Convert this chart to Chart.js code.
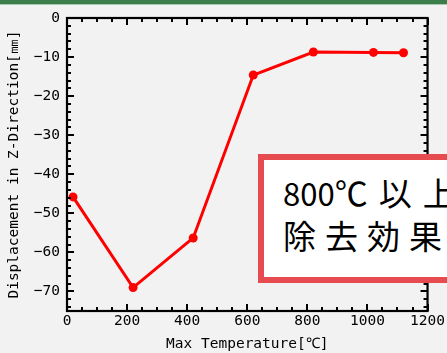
<!DOCTYPE html>
<html>
<head>
<meta charset="utf-8">
<script src="https://cdn.jsdelivr.net/npm/chart.js@4"></script>
<style>
  html, body { margin:0; padding:0; background:#f2f2f2; width:447px; height:353px; overflow:hidden; position:relative; }
  #wrap { position:absolute; left:0; top:0; width:447px; height:353px; }
  #topbar { position:absolute; left:0; top:0; width:447px; height:4px; background:#3b7d4b; border-bottom:1px solid #a9c9b0; }
  #note { position:absolute; left:258px; top:154px; width:260px; height:117px; background:#ffffff; border:6px solid #e64b50;
          font-family:"Noto Sans CJK JP", sans-serif; color:#000; white-space:nowrap; }
  .line { position:absolute; left:19px; font-size:31px; line-height:30px; }
  .w1 { letter-spacing:11px; font-size:33px; }
  .w2 { letter-spacing:9px; font-size:33px; }
</style>
</head>
<body>
<div id="wrap"><canvas id="c" width="447" height="353"></canvas></div>
<div id="topbar"></div>
<div id="note">
  <div class="line" style="top:17px;">800<span class="w1">℃以上で</span></div>
  <div class="line w2" style="top:60px;">除去効果あり</div>
</div>
<script>
const temperatures = [20, 220, 420, 620, 820, 1020, 1120];
const displacements = [-45.8, -69.0, -56.3, -14.6, -8.7, -8.8, -8.9];
const xTickValues = [0, 200, 400, 600, 800, 1000, 1200];
const yTickValues = [0, -10, -20, -30, -40, -50, -60, -70];
const xTitle = 'Max Temperature[℃]';
const yTitle = 'Displacement in Z-Direction[㎜]';

const axisFont = { family: '"DejaVu Sans Mono", monospace', size: 14.5 };

const frameTicks = {
  id: 'frameTicks',
  afterDraw(chart) {
    const ctx = chart.ctx;
    const a = chart.chartArea;
    const xs = chart.scales.x, ys = chart.scales.y;
    ctx.save();
    ctx.strokeStyle = '#000';
    ctx.lineWidth = 2;
    for (let v = xs.min; v <= xs.max + 1e-9; v += 50) {
      const px = Math.round(xs.getPixelForValue(v));
      const len = (v % 200 === 0) ? 7 : 4;
      ctx.beginPath();
      ctx.moveTo(px, a.bottom); ctx.lineTo(px, a.bottom - len);
      ctx.moveTo(px, a.top); ctx.lineTo(px, a.top + len);
      ctx.stroke();
    }
    for (let v = 0; v >= ys.min - 1e-9; v -= 2) {
      const py = Math.round(ys.getPixelForValue(v));
      const len = (v % 10 === 0) ? 7 : 4;
      ctx.beginPath();
      ctx.moveTo(a.left, py); ctx.lineTo(a.left + len, py);
      ctx.moveTo(a.right, py); ctx.lineTo(a.right - len, py);
      ctx.stroke();
    }
    ctx.lineWidth = 2.2;
    ctx.strokeRect(a.left, a.top, a.right - a.left, a.bottom - a.top);
    ctx.restore();
  }
};

new Chart(document.getElementById('c'), {
  type: 'line',
  data: {
    datasets: [{
      data: temperatures.map((t, i) => ({ x: t, y: displacements[i] })),
      borderColor: '#ff0000',
      backgroundColor: '#ff0000',
      borderWidth: 3,
      pointRadius: 4.5,
      pointBackgroundColor: '#ff0000',
      pointBorderWidth: 0,
      tension: 0
    }]
  },
  options: {
    responsive: false,
    animation: false,
    events: [],
    layout: { padding: { top: 18, right: 17.5, left: 0, bottom: 0 } },
    plugins: { legend: { display: false }, tooltip: { enabled: false } },
    scales: {
      x: {
        type: 'linear', position: 'bottom', min: 0, max: 1200,
        grid: { display: false, drawTicks: false },
        border: { display: false },
        afterBuildTicks: s => { s.ticks = xTickValues.map(v => ({ value: v })); },
        afterFit: s => { s.height = 42; },
        ticks: { color: '#000', font: axisFont, padding: 2, maxRotation: 0, autoSkip: false,
                 callback: v => String(v) },
        title: { display: true, text: xTitle, color: '#000', font: axisFont, padding: { top: 0, bottom: 0 } }
      },
      y: {
        type: 'linear', position: 'left', min: -75, max: 0,
        grid: { display: false, drawTicks: false },
        border: { display: false },
        afterBuildTicks: s => { s.ticks = yTickValues.map(v => ({ value: v })); },
        afterFit: s => { s.width = 67; },
        ticks: { color: '#000', font: axisFont, padding: 7, autoSkip: false,
                 callback: v => String(v).replace('-', '−') },
        title: { display: true, text: yTitle, color: '#000', font: axisFont, padding: { top: 6, bottom: 0 } }
      }
    }
  },
  plugins: [frameTicks]
});
</script>
</body>
</html>
